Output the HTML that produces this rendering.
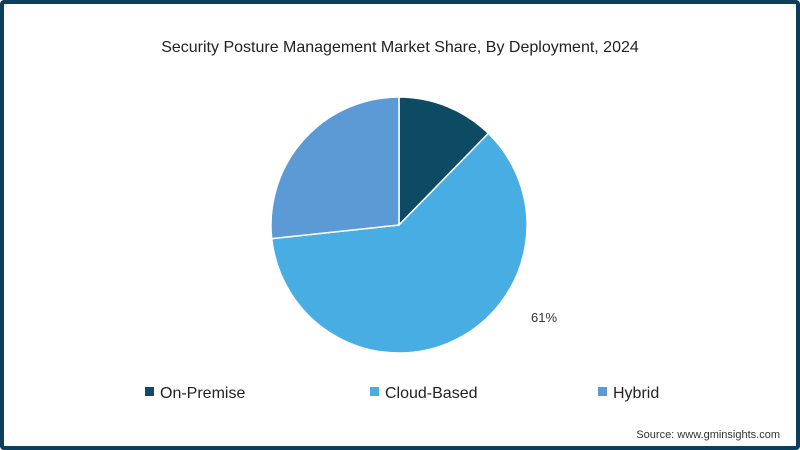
<!DOCTYPE html>
<html><head><meta charset="utf-8"><style>
html,body{margin:0;padding:0;background:#fff;}
#frame{position:absolute;left:0;top:0;width:800px;height:450px;box-sizing:border-box;border:4px solid #0b3f5c;border-radius:4px;background:#fff;font-family:"Liberation Sans",sans-serif;}
</style></head><body>
<div id="frame">
<svg width="792" height="442" style="position:absolute;left:0;top:0" id="svg">
<g transform="translate(-4,-4)">
<text x="400" y="52" text-anchor="middle" font-size="16" fill="#222">Security Posture Management Market Share, By Deployment, 2024</text>
<g id="slices"></g>
<text x="531" y="322" font-size="13" fill="#333">61%</text>
<g id="legend"></g>
<text x="780" y="438" text-anchor="end" font-size="11" fill="#333">Source: www.gminsights.com</text>
</g>
</svg>
</div>
<script>
const categories=["On-Premise","Cloud-Based","Hybrid"];
const values=[12.3,61,26.7];
const colors=["#0d4a63","#47ade2","#5c9ad5"];
const cx=399,cy=225,r=128;
const ns="http://www.w3.org/2000/svg";
const g=document.getElementById('slices');
const total=values.reduce((a,b)=>a+b,0);
let a0=0;
values.forEach((v,i)=>{
  const a1=a0+v/total*Math.PI*2;
  const x0=cx+r*Math.sin(a0),y0=cy-r*Math.cos(a0),x1=cx+r*Math.sin(a1),y1=cy-r*Math.cos(a1);
  const p=document.createElementNS(ns,'path');
  p.setAttribute('d',`M${cx},${cy}L${x0},${y0}A${r},${r} 0 ${a1-a0>Math.PI?1:0} 1 ${x1},${y1}Z`);
  p.setAttribute('fill',colors[i]);p.setAttribute('stroke','#fff');p.setAttribute('stroke-width','1.5');
  
  
  g.appendChild(p);a0=a1;
});
const lg=document.getElementById('legend');
const lx=[145,370,598];
categories.forEach((c,i)=>{
  const grp=document.createElementNS(ns,'g');
  
  
  const rc=document.createElementNS(ns,'rect');
  rc.setAttribute('x',lx[i]);rc.setAttribute('y',387);rc.setAttribute('width',9);rc.setAttribute('height',9);rc.setAttribute('fill',colors[i]);
  const t=document.createElementNS(ns,'text');
  t.setAttribute('x',lx[i]+15);t.setAttribute('y',398);t.setAttribute('font-size','16');t.setAttribute('fill','#222');t.textContent=c;
  grp.appendChild(rc);grp.appendChild(t);lg.appendChild(grp);
});
</script>
</body></html>
